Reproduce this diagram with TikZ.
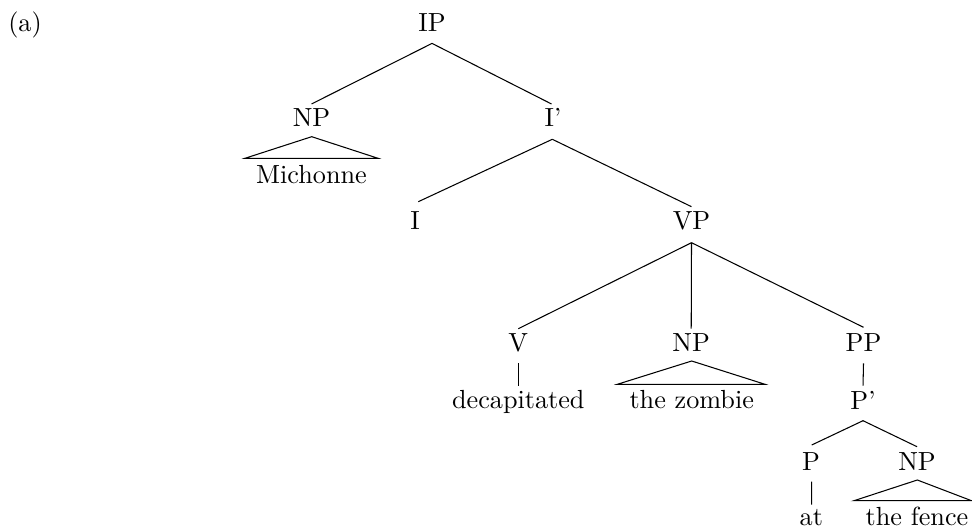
\documentclass[tikz,border=0pt]{standalone}
\usetikzlibrary{calc}
\begin{document}
\begin{tikzpicture}[x=0.3817pt, y=-0.3817pt,
    lbl/.style={anchor=base, inner sep=0pt},
    branch/.style={line width=0.4pt},
    roof/.style={line width=0.4pt, line join=miter}]
  \useasboundingbox (0,0) rectangle (972,527);

  % example label
  \node[lbl] (lab) at (25,31.7) {(a)};

  % category labels and leaves
  \node[lbl] (ip)     at (432,31.7)   {IP};
  \node[lbl] (np1)    at (311.5,127)  {NP};
  \node[lbl] (ibar)   at (553,127)    {I'};
  \node[lbl] (mich)   at (311.5,183.5) {Michonne};
  \node[lbl] (inode)  at (415,230)    {I};
  \node[lbl] (vp)     at (691.5,230)  {VP};
  \node[lbl] (v)      at (518.3,351.7) {V};
  \node[lbl] (np2)    at (691.2,351.7) {NP};
  \node[lbl] (pp)     at (863.5,351.7) {PP};
  \node[lbl] (decap)  at (518.3,408.5) {decapitated};
  \node[lbl] (zombie) at (691.7,408.5) {the zombie};
  \node[lbl] (pbar)   at (863,409)    {P'};
  \node[lbl] (p)      at (811,470.7)  {P};
  \node[lbl] (np3)    at (917,470.7)  {NP};
  \node[lbl] (at)     at (811.3,525.5) {at};
  \node[lbl] (fence)  at (917,525.5)  {the fence};

  % branches
  \draw[branch] ($(ip.base)+(0,11.7)$) -- ($(np1.base)+(0,-23)$);
  \draw[branch] ($(ip.base)+(0,11.7)$) -- ($(ibar.base)+(-1.5,-23)$);
  \draw[branch] ($(ibar.base)+(-0.7,12.3)$) -- ($(inode.base)+(3.3,-28.3)$);
  \draw[branch] ($(ibar.base)+(-0.7,12.3)$) -- ($(vp.base)+(0,-23.3)$);
  \draw[branch] ($(vp.base)+(0,12.7)$) -- ($(v.base)+(0,-23)$);
  \draw[branch] ($(vp.base)+(0,12.7)$) -- ($(np2.base)+(0,-23)$);
  \draw[branch] ($(vp.base)+(0,12.7)$) -- ($(pp.base)+(0,-24.4)$);
  \draw[branch] ($(v.base)+(0,11.6)$) -- ($(decap.base)+(0,-22.8)$);
  \draw[branch] ($(pp.base)+(0,11.6)$) -- ($(pbar.base)+(0,-23.3)$);
  \draw[branch] ($(pbar.base)+(0,11.7)$) -- ($(p.base)+(0.7,-25.7)$);
  \draw[branch] ($(pbar.base)+(0,11.7)$) -- ($(np3.base)+(0,-24)$);
  \draw[branch] ($(p.base)+(0.7,11)$) -- ($(at.base)+(0.4,-21)$);

  % roofs over unanalysed phrases
  \draw[roof] ($(np1.base)+(0.2,9.7)$) -- ($(mich.base)+(-66.5,-25.2)$) -- ($(mich.base)+(66.5,-25.2)$) -- cycle;
  \draw[roof] ($(np2.base)+(0.5,9.3)$) -- ($(zombie.base)+(-74.4,-24.2)$) -- ($(zombie.base)+(73.3,-24.2)$) -- cycle;
  \draw[roof] ($(np3.base)+(0.3,9.3)$) -- ($(fence.base)+(-63,-24.8)$) -- ($(fence.base)+(54.5,-24.8)$) -- cycle;
\end{tikzpicture}
\end{document}
